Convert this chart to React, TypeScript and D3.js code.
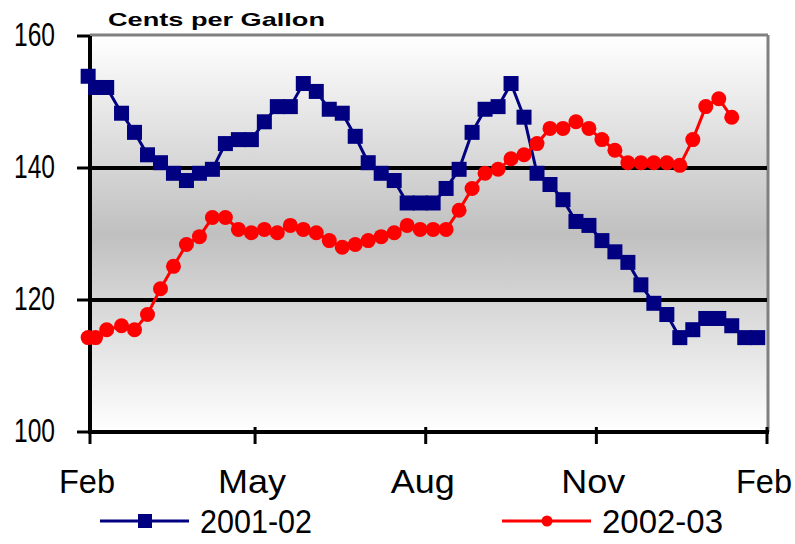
import React from "react";
import * as d3 from "d3";

// days after Feb 1 for each weekly reading
const weekDays = [
  -1, 3, 9, 17, 24, 31, 38, 45, 52, 59, 66, 73, 80, 87, 94, 101, 108, 115,
  122, 129, 136, 143, 150, 157, 164, 171, 178, 185, 192, 199, 206, 213, 220,
  227, 234, 241, 248, 255, 262, 269, 276, 283, 290, 297, 304, 311, 318, 325,
  332, 339, 346, 353, 360,
];

const prices0102 = [
  153.9, 152.2, 152.2, 148.3, 145.4, 142.0, 140.8, 139.2, 138.1, 139.2, 139.8,
  143.7, 144.3, 144.3, 147.0, 149.3, 149.3, 152.8, 151.6, 148.9, 148.3, 144.8,
  140.8, 139.2, 138.1, 134.7, 134.7, 134.7, 136.9, 139.8, 145.4, 148.9, 149.3,
  152.8, 147.7, 139.2, 137.5, 135.2, 131.9, 131.3, 129.0, 127.3, 125.7, 122.3,
  119.5, 117.8, 114.3, 115.5, 117.2, 117.2, 116.1, 114.3, 114.3,
];

const prices0203 = [
  114.3, 114.3, 115.5, 116.1, 115.5, 117.8, 121.7, 125.1, 128.4, 129.6, 132.5,
  132.5, 130.7, 130.2, 130.7, 130.2, 131.3, 130.7, 130.2, 129.0, 128.0, 128.4,
  129.0, 129.6, 130.2, 131.3, 130.7, 130.7, 130.7, 133.6, 136.9, 139.2, 139.8,
  141.4, 142.0, 143.7, 146.0, 146.0, 147.0, 146.0, 144.3, 142.7, 140.8, 140.8,
  140.8, 140.8, 140.4, 144.3, 149.3, 150.5, 147.7,
];

const monthLabels = ["Feb", "May", "Aug", "Nov", "Feb"];
const monthDays = [0, 89, 181, 273, 365];
const yTicks = [100, 120, 140, 160];
const gridValues = [120, 140];

const seriesNames = ["2001-02", "2002-03"];
const BLUE = "#000080";
const RED = "#ff0000";
const FONT = "'Liberation Sans', Arial, sans-serif";

// the original bitmap font is tall and narrow, so squeeze glyphs to fit
const monthWidths: Record<string, number> = { Feb: 56, May: 68, Aug: 64, Nov: 64 };

export default function App() {
  const W = 795, H = 544;
  const left = 90, right = 767, top = 36, bottom = 432;

  const x = d3.scaleLinear().domain([0, 365]).range([left, right]);
  const y = d3.scaleLinear().domain([100, 160]).range([bottom, top]);

  const toPts = (vals: number[]) => vals.map((v, i) => [weekDays[i], v] as [number, number]);
  const line = d3.line<[number, number]>().x(d => x(d[0])).y(d => y(d[1]));

  const blue = toPts(prices0102);
  const red = toPts(prices0203);

  return (
    <svg width={W} height={H} style={{ position: "absolute", left: 0, top: 0, background: "#fff" }}>
      <defs>
        <linearGradient id="plotBg" x1="0" y1="0" x2="0" y2="1">
          <stop offset="0%" stopColor="#ffffff" />
          <stop offset="50%" stopColor="#c0c0c0" />
          <stop offset="100%" stopColor="#ffffff" />
        </linearGradient>
      </defs>

      {/* plot area */}
      <rect x={left} y={top} width={right - left} height={bottom - top} fill="url(#plotBg)" />
      <line x1={left} x2={right + 1} y1={top - 1} y2={top - 1} stroke="#808080" strokeWidth={3} />
      <line x1={right + 1} x2={right + 1} y1={top - 1} y2={bottom} stroke="#808080" strokeWidth={3} />

      {gridValues.map(v => (
        <line key={v} x1={left} x2={right} y1={y(v)} y2={y(v)} stroke="#000" strokeWidth={4} />
      ))}

      {/* y axis */}
      <line x1={left} x2={left} y1={top} y2={bottom} stroke="#000" strokeWidth={4} />
      {yTicks.map(v => (
        <g key={v}>
          <line x1={left - 13} x2={left} y1={y(v)} y2={y(v)} stroke="#000" strokeWidth={3} />
          <text x={14} y={y(v) + 10} textLength={41} lengthAdjust="spacingAndGlyphs"
            fontFamily={FONT} fontSize={34} fill="#000">{v}</text>
        </g>
      ))}

      {/* x axis */}
      <line x1={left - 2} x2={right + 2} y1={bottom} y2={bottom} stroke="#000" strokeWidth={4} />
      {monthDays.map((d, i) => {
        const w = monthWidths[monthLabels[i]];
        return (
          <g key={i}>
            <line x1={x(d)} x2={x(d)} y1={bottom - 5} y2={bottom + 12} stroke="#000" strokeWidth={3} />
            <text x={x(d) - 3 - w / 2} y={493} textLength={w} lengthAdjust="spacingAndGlyphs"
              fontFamily={FONT} fontSize={34} fill="#000">
              {monthLabels[i]}
            </text>
          </g>
        );
      })}

      <text x={108} y={26} fontFamily={FONT} fontWeight="bold" fontSize={19}
        textLength={217} lengthAdjust="spacingAndGlyphs" fill="#000">Cents per Gallon</text>

      {/* 2001-02 */}
      <path d={line(blue) || ""} fill="none" stroke={BLUE} strokeWidth={3} />
      {blue.map((p, i) => (
        <rect key={i} x={x(p[0]) - 7.5} y={y(p[1]) - 7.5} width={15} height={15} fill={BLUE} />
      ))}

      {/* 2002-03 */}
      <path d={line(red) || ""} fill="none" stroke={RED} strokeWidth={3} />
      {red.map((p, i) => (
        <circle key={i} cx={x(p[0])} cy={y(p[1])} r={7.5} fill={RED} />
      ))}

      {/* legend */}
      <g>
        <line x1={100} x2={189} y1={521} y2={521} stroke={BLUE} strokeWidth={3} />
        <rect x={138} y={514} width={14} height={14} fill={BLUE} />
        <text x={200} y={533} textLength={112} lengthAdjust="spacingAndGlyphs"
          fontFamily={FONT} fontSize={33} fill="#000">
          {seriesNames[0]}
        </text>
        <line x1={502} x2={591} y1={521} y2={521} stroke={RED} strokeWidth={3} />
        <circle cx={547} cy={521} r={5.5} fill={RED} />
        <text x={602} y={533} textLength={121} lengthAdjust="spacingAndGlyphs"
          fontFamily={FONT} fontSize={33} fill="#000">
          {seriesNames[1]}
        </text>
      </g>
    </svg>
  );
}
